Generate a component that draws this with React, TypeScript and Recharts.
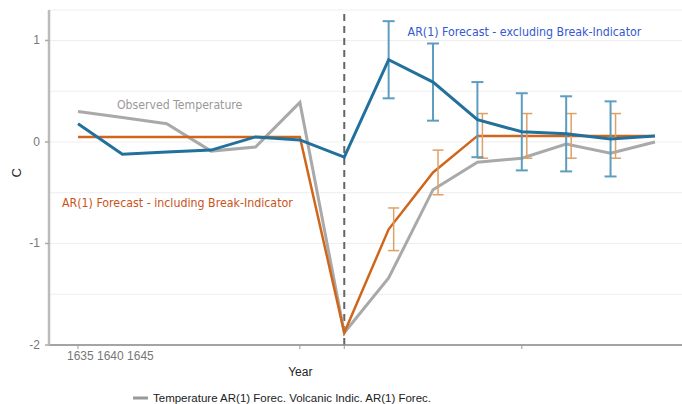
import { LineChart, Line, XAxis, YAxis, CartesianGrid, ReferenceLine, ReferenceDot, ErrorBar, Legend } from 'recharts'

// one entry per forecast step (evenly spaced on the x axis)
const steps = [0, 1, 2, 3, 4, 5, 6, 7, 8, 9, 10, 11, 12, 13]
const observed = [0.30, 0.24, 0.18, -0.09, -0.05, 0.39, -1.88, -1.34, -0.47, -0.20, -0.16, -0.02, -0.11, 0.0]
const arExcl = [0.18, -0.12, -0.10, -0.08, 0.05, 0.02, -0.15, 0.81, 0.59, 0.22, 0.10, 0.08, 0.03, 0.06]
const arExclErr = [null, null, null, null, null, null, null, 0.38, 0.38, 0.37, 0.38, 0.37, 0.37, null]
const arIncl = [0.05, 0.05, 0.05, 0.05, 0.05, 0.05, -1.88, -0.86, -0.30, 0.06, 0.06, 0.06, 0.06, 0.06]
const arInclErr = [null, null, null, null, null, null, null, 0.21, 0.22, 0.22, 0.22, 0.22, 0.22, null]

const xTicks = [0, 5, 6, 10]
const xTickLabels: Record<number, string> = { 0: '1635 1640 1645' }
const yTicks = [-2, -1.5, -1, -0.5, 0, 0.5, 1]
const breakStep = 6

const data = steps.map((s, i) => ({
  step: s,
  observed: observed[i],
  arExcl: arExcl[i],
  arExclErr: arExclErr[i],
  arIncl: arIncl[i],
  arInclErr: arInclErr[i],
}))

const sans = "'Liberation Sans', Arial, sans-serif"
const narrow = "'DejaVu Sans Condensed', 'Liberation Sans', sans-serif"

const X_DOMAIN: [number, number] = [-0.653, 13.61]
// orange error bars sit a few px right of their points in the original
const X_SHIFT = 0.113

function XTick({ x, y, payload }: any) {
  const label = xTickLabels[payload.value]
  if (!label) return <g />
  return (
    <text x={x - 11} y={y} dy={9} textAnchor="start" fontSize={12} fill="#777" fontFamily={sans}>
      {label}
    </text>
  )
}

function YTick({ x, y, payload }: any) {
  if (!Number.isInteger(payload.value)) return <g />
  return (
    <g>
      <line x1={x + 4} x2={x + 8} y1={y} y2={y} stroke="#aaa" strokeWidth={1.5} />
      <text x={x - 1} y={y} dy={4} textAnchor="end" fontSize={12} fill="#777" fontFamily={sans}>
        {payload.value}
      </text>
    </g>
  )
}

function LegendContent() {
  return (
    <div style={{ height: 20, display: 'flex', alignItems: 'center', paddingLeft: 133, fontFamily: sans, fontSize: 11.5, color: '#222', transform: 'translateY(4px)' }}>
      <svg width={18} height={10} style={{ marginRight: 2 }}>
        <line x1={0} x2={15} y1={5} y2={5} stroke="#999" strokeWidth={3} />
      </svg>
      <span>Temperature AR(1) Forec. Volcanic Indic. AR(1) Forec.</span>
    </div>
  )
}

export default function App() {
  return (
    <div style={{ position: 'absolute', left: 0, top: 0, background: '#fff' }}>
      <LineChart width={682} height={404} data={data} margin={{ top: 10, right: 0, bottom: 0, left: 0 }}>
        <CartesianGrid horizontal vertical={false} stroke="#eeeeee" />
        <XAxis
          dataKey="step"
          type="number"
          domain={X_DOMAIN}
          allowDataOverflow
          ticks={xTicks}
          tick={<XTick />}
          tickSize={4}
          tickLine={{ stroke: '#999' }}
          axisLine={{ stroke: '#888', strokeWidth: 1.5 }}
          height={39}
          label={{
            value: 'Year',
            content: ({ viewBox }: any) => (
              <text x={viewBox.x + viewBox.width * 0.397} y={viewBox.y + 31} textAnchor="middle" fontSize={12} fill="#222" fontFamily={sans}>
                Year
              </text>
            ),
          }}
        />
        <XAxis xAxisId="shift" dataKey="step" type="number" domain={[X_DOMAIN[0] - X_SHIFT, X_DOMAIN[1] - X_SHIFT]} allowDataOverflow hide />
        <YAxis
          type="number"
          domain={[-2, 1.3]}
          allowDataOverflow
          ticks={yTicks}
          tick={<YTick />}
          tickLine={false}
          tickSize={4}
          tickMargin={4}
          width={49}
          axisLine={{ stroke: '#bbb', strokeWidth: 2.5 }}
          label={{ value: 'C', angle: -90, position: 'insideLeft', offset: 16, fill: '#222', fontSize: 13, fontFamily: sans }}
        />
        <ReferenceLine x={breakStep} stroke="#666" strokeWidth={2} strokeDasharray="7 5" />

        <Line dataKey="observed" stroke="#a9a9a9" strokeWidth={3} dot={false} isAnimationActive={false} legendType="none" />
        <Line dataKey="arIncl" stroke="#d0661c" strokeWidth={2.5} dot={false} isAnimationActive={false} legendType="none" />
        <Line dataKey="arIncl" xAxisId="shift" stroke="none" dot={false} isAnimationActive={false} legendType="none">
          <ErrorBar dataKey="arInclErr" width={5.5} stroke="#dda067" strokeWidth={1.5} />
        </Line>
        <Line dataKey="arExcl" stroke="#22709c" strokeWidth={3} dot={false} isAnimationActive={false} legendType="none">
          <ErrorBar dataKey="arExclErr" width={6} stroke="#5d9dbf" strokeWidth={2} />
        </Line>

        <ReferenceDot x={2.29} y={0.37} r={0} fill="none" stroke="none"
          label={{ value: 'Observed Temperature', position: 'center', fill: '#999', fontSize: 12.2, fontFamily: narrow }} />
        <ReferenceDot x={2.24} y={-0.6} r={0} fill="none" stroke="none"
          label={{ value: 'AR(1) Forecast - including Break-Indicator', position: 'center', fill: '#c9541a', fontSize: 12.3, fontFamily: narrow }} />
        <ReferenceDot x={10.06} y={1.09} r={0} fill="none" stroke="none"
          label={{ value: 'AR(1) Forecast - excluding Break-Indicator', position: 'center', fill: '#3559d0', fontSize: 12.3, fontFamily: narrow }} />

        <Legend verticalAlign="bottom" height={20} content={<LegendContent />} wrapperStyle={{ left: 0, width: 682 }} />
      </LineChart>
    </div>
  )
}
